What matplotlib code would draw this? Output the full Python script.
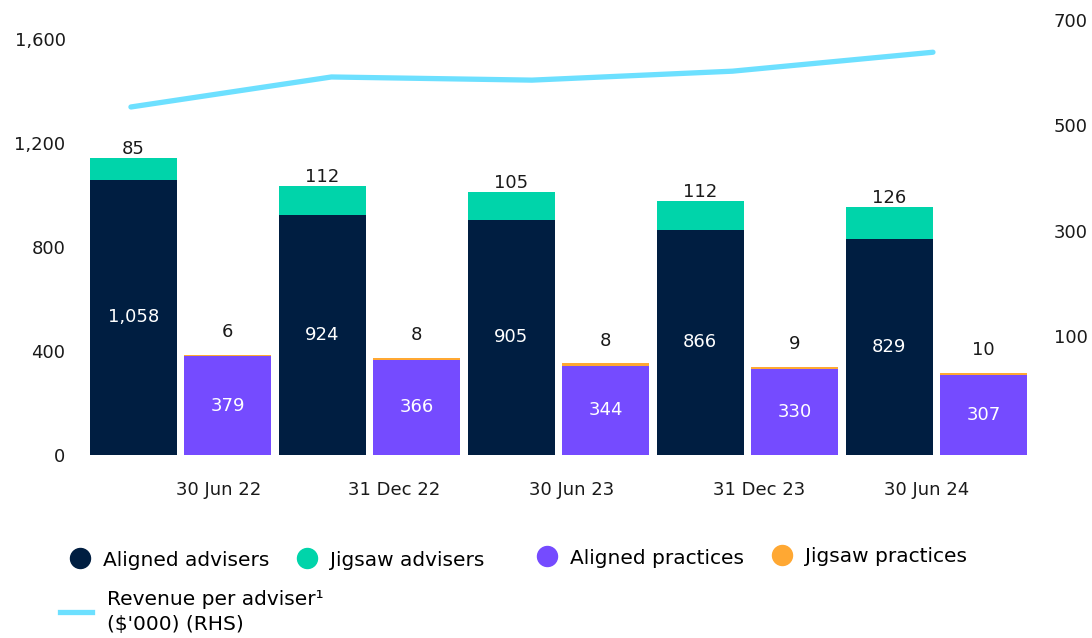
import matplotlib
matplotlib.use("Agg")
import matplotlib.pyplot as plt
from matplotlib.lines import Line2D
from matplotlib.ticker import FuncFormatter

plt.rcParams['font.family'] = ['DejaVu Sans']

# data
periods = ['30 Jun 22', '31 Dec 22', '30 Jun 23', '31 Dec 23', '30 Jun 24']
aligned_advisers = [1058, 924, 905, 866, 829]
jigsaw_advisers = [85, 112, 105, 112, 126]
aligned_practices = [379, 366, 344, 330, 307]
jigsaw_practices = [6, 8, 8, 9, 10]
revenue_per_adviser = [535, 592, 586, 603, 639]

# x tick labels sit a bit off the group centres in the original
label_pos = [0.20, 1.13, 2.07, 3.06, 3.95]

navy = '#001E41'
teal = '#00D4AA'
purple = '#754BFF'
orange = '#FFA833'
cyan = '#6DE0FF'

fig = plt.figure(figsize=(10.92, 6.38), dpi=100)
rect = [85 / 1092, (638 - 455) / 638, 945 / 1092, (455 - 18) / 638]
ax = fig.add_axes(rect)

x = list(range(len(periods)))
off = 0.25
w = 0.46
xa = [i - off for i in x]
xp = [i + off for i in x]

ax.bar(xa, aligned_advisers, w, color=navy)
ax.bar(xa, jigsaw_advisers, w, bottom=aligned_advisers, color=teal)
ax.bar(xp, aligned_practices, w, color=purple)
ax.bar(xp, jigsaw_practices, w, bottom=aligned_practices, color=orange)

fs = 13
for i in x:
    ax.text(xa[i], aligned_advisers[i] / 2, f'{aligned_advisers[i]:,}',
            ha='center', va='center', color='white', fontsize=fs)
    ax.annotate(f'{jigsaw_advisers[i]}', (xa[i], aligned_advisers[i] + jigsaw_advisers[i]),
                xytext=(0, 0), textcoords='offset points',
                ha='center', va='bottom', fontsize=fs, color='#1a1a1a')
    ax.text(xp[i], aligned_practices[i] / 2, f'{aligned_practices[i]}',
            ha='center', va='center', color='white', fontsize=fs)
    ax.annotate(f'{jigsaw_practices[i]}', (xp[i], aligned_practices[i] + jigsaw_practices[i]),
                xytext=(0, 10), textcoords='offset points',
                ha='center', va='bottom', fontsize=fs, color='#1a1a1a')

ax.set_xlim(-0.505, 4.495)
ax.set_ylim(0, 1681)
ax.set_yticks([0, 400, 800, 1200, 1600])
ax.yaxis.set_major_formatter(FuncFormatter(lambda v, p: f'{int(v):,}'))
ax.set_xticks(label_pos)
ax.set_xticklabels(periods)
ax.tick_params(axis='both', length=0, labelsize=fs, colors='#1a1a1a')
ax.tick_params(axis='y', pad=14)
ax.tick_params(axis='x', pad=19)
for s in ax.spines.values():
    s.set_visible(False)

# line on its own axes, right-hand scale
ax2 = fig.add_axes(rect, frameon=False)
ax2.plot(x, revenue_per_adviser, color=cyan, lw=3.8, solid_capstyle='round',
         solid_joinstyle='round')
ax2.set_xlim(-0.229, 4.484)
ax2.set_ylim(-126, 704)
ax2.set_xticks([])
ax2.yaxis.tick_right()
ax2.set_yticks([100, 300, 500, 700])
ax2.tick_params(axis='y', length=0, labelsize=fs, pad=17, colors='#1a1a1a')
for s in ax2.spines.values():
    s.set_visible(False)

# legends - the original spaces its entries unevenly, so one legend per entry
lfs = 14.5
legend_items = [('Aligned advisers', navy), ('Jigsaw advisers', teal),
                ('Aligned practices', purple), ('Jigsaw practices', orange)]
legend_x = [70, 297, 537, 772]
legend_y = [560, 560, 558, 557]

for (name, c), lx, ly in zip(legend_items, legend_x, legend_y):
    h = Line2D([], [], marker='o', linestyle='none', markersize=14.4,
               markerfacecolor=c, markeredgecolor=c)
    fig.legend([h], [name], loc='center left',
               bbox_to_anchor=(lx / 1092, (638 - ly) / 638),
               frameon=False, fontsize=lfs, borderpad=0, borderaxespad=0,
               handlelength=1.0, handletextpad=0.62)

leg2 = fig.legend([Line2D([], [], color=cyan, lw=3.8)],
                  ['Revenue per adviser\u00b9\n($\'000) (RHS)'],
                  loc='center left', bbox_to_anchor=(60 / 1092, (638 - 612) / 638),
                  frameon=False, fontsize=lfs, borderpad=0, borderaxespad=0,
                  handlelength=1.6, handletextpad=0.75)
for t in leg2.get_texts():
    t.set_linespacing(1.45)

fig.savefig('out.png', dpi=100)
